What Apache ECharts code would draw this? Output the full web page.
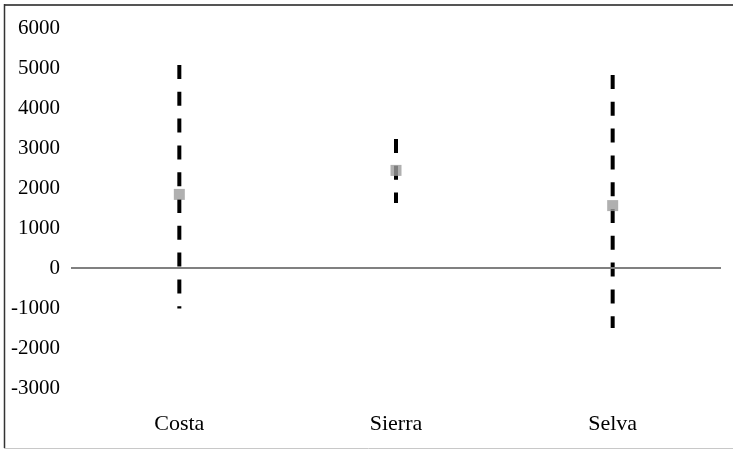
<!DOCTYPE html>
<html>
<head>
<meta charset="utf-8">
<script src="https://cdn.jsdelivr.net/npm/echarts@6/dist/echarts.min.js"></script>
<style>
  html, body { margin: 0; padding: 0; background: #fff; }
  #chart { width: 733px; height: 450px; }
</style>
</head>
<body>
<div id="chart"></div>
<script>
// categories and values
const regions = ['Costa', 'Sierra', 'Selva'];
const highs = [5075, 3225, 4825];
const lows = [-1010, 1625, -1500];
const means = [1840, 2440, 1560];
const yTicks = [-3000, -2000, -1000, 0, 1000, 2000, 3000, 4000, 5000, 6000];

const fontFam = '"Liberation Serif", "DejaVu Serif", serif';

const myChart = echarts.init(document.getElementById('chart'));

// one dashed line per region, from high to low
const rangeSeries = regions.map(function (r, i) {
    return {
        type: 'line',
        data: [[r, highs[i]], [r, lows[i]]],
        symbol: 'none',
        silent: true,
        lineStyle: { color: '#000', width: 4, type: [14, 12.8], cap: 'butt' },
        z: 2
    };
});

const option = {
    animation: false,
    grid: { left: 71, right: 12, top: 28, bottom: 62 },
    graphic: [
        { type: 'line', shape: { x1: 4, y1: 5, x2: 733, y2: 5 }, style: { stroke: '#555', lineWidth: 2 } },
        { type: 'line', shape: { x1: 4.5, y1: 4, x2: 4.5, y2: 448 }, style: { stroke: '#333', lineWidth: 1.5 } },
        { type: 'line', shape: { x1: 4, y1: 448.5, x2: 733, y2: 448.5 }, style: { stroke: '#c8c8c8', lineWidth: 1 } }
    ],
    xAxis: {
        type: 'category',
        data: regions,
        axisLine: { show: false, onZero: false },
        axisTick: { show: false },
        axisLabel: { color: '#000', fontFamily: fontFam, fontSize: 22, margin: 25 }
    },
    yAxis: {
        type: 'value',
        min: yTicks[0],
        max: yTicks[yTicks.length - 1],
        interval: 1000,
        axisLine: { show: false },
        axisTick: { show: false },
        splitLine: { show: false },
        axisLabel: {
            color: '#000', fontFamily: fontFam, fontSize: 21, margin: 11,
            formatter: function (v) { return String(v); }
        }
    },
    series: rangeSeries.concat([
        {
            type: 'scatter',
            data: regions.map(function (r, i) { return [r, means[i]]; }),
            symbol: 'rect',
            symbolSize: 11,
            itemStyle: { color: '#9c9c9c' },
            z: 5,
            markLine: {
                silent: true,
                symbol: 'none',
                label: { show: false },
                lineStyle: { color: '#808080', width: 2, type: 'solid' },
                data: [{ yAxis: 0 }]
            }
        }
    ])
};

myChart.setOption(option);
</script>
</body>
</html>
